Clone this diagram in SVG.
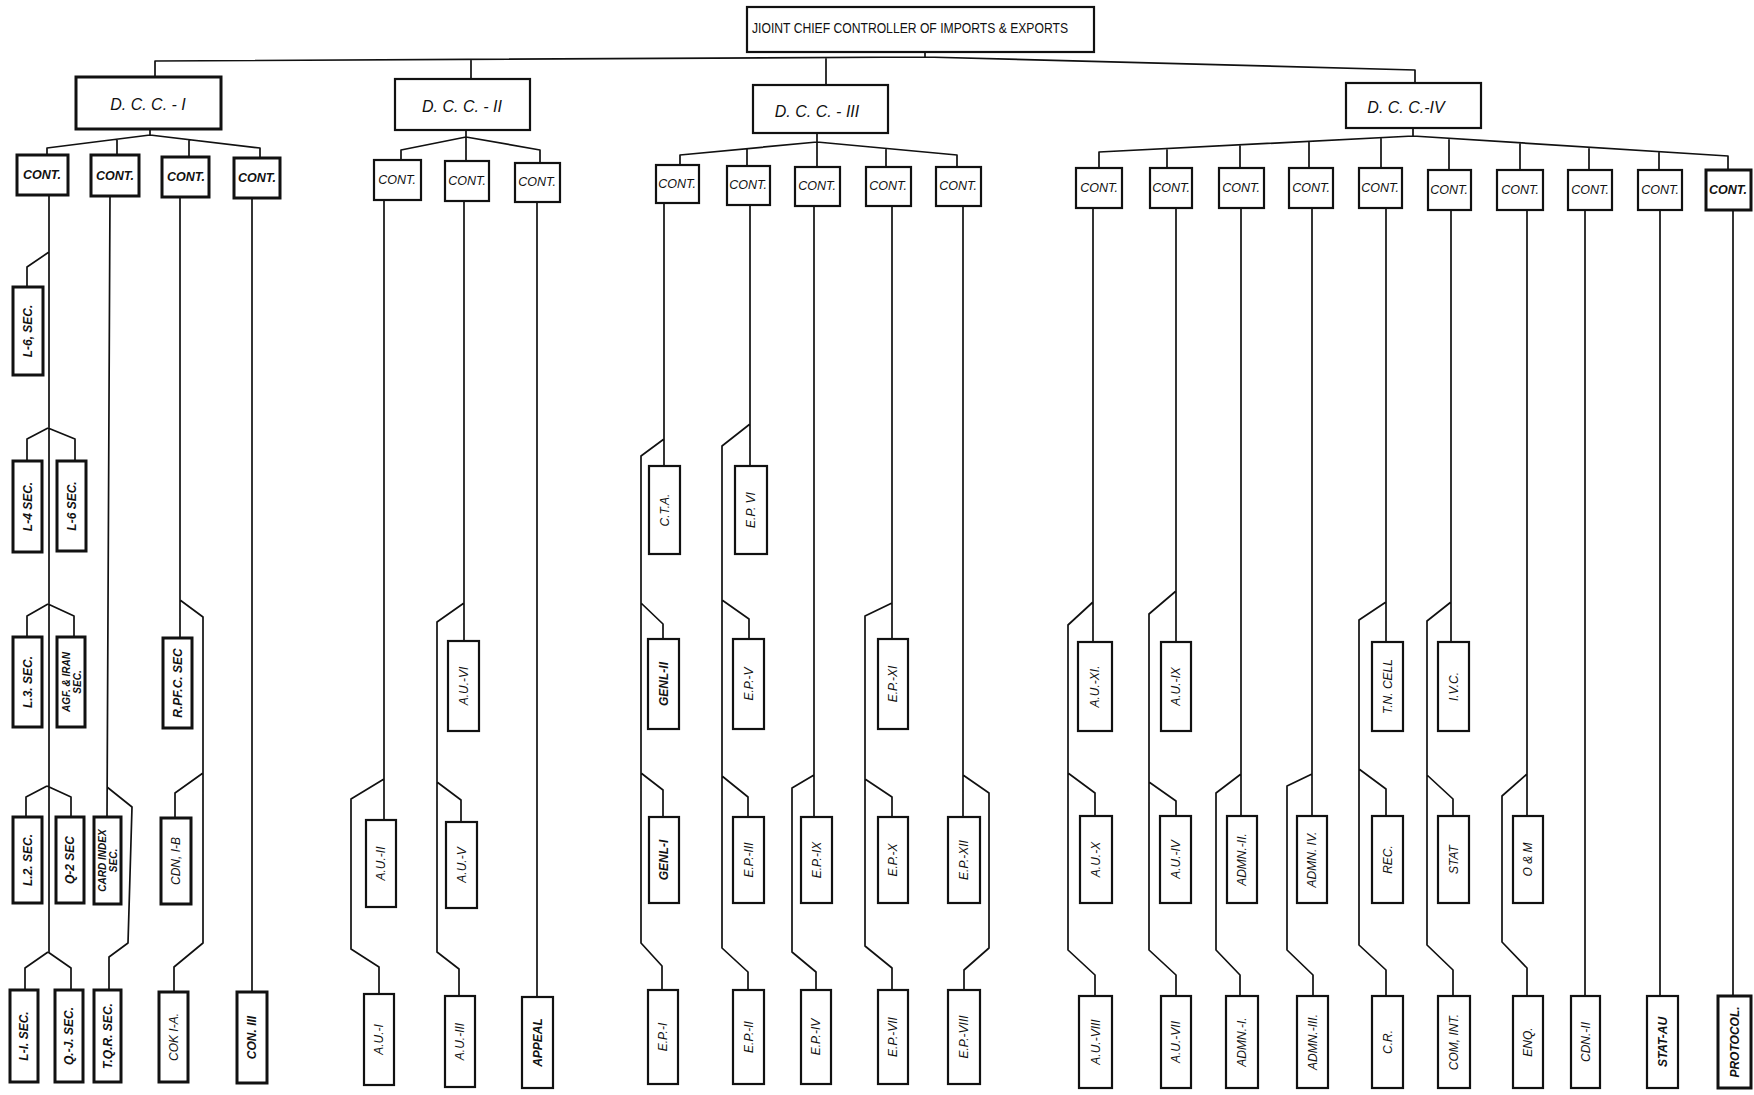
<svg xmlns="http://www.w3.org/2000/svg" width="1754" height="1095" viewBox="0 0 1754 1095">
<style>
.bg{fill:#fff}
.box{fill:#fff;stroke:#111;stroke-width:2.2}
.bb{fill:#fff;stroke:#111;stroke-width:3}
.ln{fill:none;stroke:#111;stroke-width:1.7;stroke-linejoin:round}
.t{font-family:"Liberation Sans",Arial,sans-serif;font-style:italic;fill:#111;text-anchor:middle;dominant-baseline:central}
.r{font-size:12px}
.r2{font-size:10px}
.c{font-size:12.5px}
.d{font-size:16px}
.b{font-weight:bold}
.top{font-size:15px;font-style:normal;text-anchor:start}
</style>
<rect class="bg" x="0" y="0" width="1754" height="1095"/>
<g id="connectors">
<path class="ln" d="M155 77 V61 L925 57 L1415 70 V83 M925 52 V57 M471 79 V59.5 M826 85 V57.5"/>
<path class="ln" d="M150 129 V135 M47 155 V148 L150 135 L260 148 V158 M117 139 V155 M189 139 V157"/>
<path class="ln" d="M466 130 V161 M401 160 V150 L466 137 L540 150 V163"/>
<path class="ln" d="M817 133 V167 M680 165 V155 L817 142 L957 155 V167 M747 149 V166 M886 148 V167"/>
<path class="ln" d="M1413 128 V136 M1099 168 V152 L1413 136 L1728 156 V170 M1167 148.5 V168 M1240 144.8 V168 M1309 141.3 V168 M1381 137.6 V168 M1449 138.3 V170 M1520 142.8 V170 M1589 147.2 V170 M1659 151.6 V170"/>
<path class="ln" d="M49 195 V952 M49 252 L27 267 V287 M48 428 L27 439 V461 M48 428 L75 439 V461 M48 604 L27 616 V637 M48 604 L74 616 V637 M47 786 L26 797 V817 M47 786 L71 797 V817 M48 952 L25 968 V990 M48 952 L71 968 V990"/>
<path class="ln" d="M110 196 L107 817 M107 787 L132 807 L128 943 L109 957 V990"/>
<path class="ln" d="M180 197 V638 M180 600 L203 617 V943 L174 967 V992 M203 773 L175 793 V818"/>
<path class="ln" d="M252 198 V992"/>
<path class="ln" d="M384 200 V820 M384 779 L351 799 V949 L379 967 V994"/>
<path class="ln" d="M464 201 V641 M464 603 L437 622 V952 L459 969 V996 M437 782 L461 800 V822"/>
<path class="ln" d="M537 202 V997"/>
<path class="ln" d="M664 203 V466 M664 439 L641 456 V943 L662 966 V990 M641 603 L663 624 V639 M641 773 L663 790 V817"/>
<path class="ln" d="M750 205 V466 M750 424 L722 446 V948 L748 972 V990 M722 600 L749 619 V639 M722 776 L748 797 V817"/>
<path class="ln" d="M814 206 V817 M814 775 L792 788 V952 L816 972 V990"/>
<path class="ln" d="M892 206 V639 M892 603 L865 616 V946 L892 968 V990 M865 779 L892 797 V817"/>
<path class="ln" d="M963 206 V817 M963 775 L989 793 V948 L964 970 V990"/>
<path class="ln" d="M1093 208 V642 M1093 602 L1068 625 V950 L1095 975 V996 M1068 773 L1095 793 V816"/>
<path class="ln" d="M1176 208 V642 M1176 591 L1149 614 V950 L1176 975 V996 M1149 782 L1176 801 V816"/>
<path class="ln" d="M1241 208 V816 M1241 774 L1216 793 V950 L1240 975 V996"/>
<path class="ln" d="M1312 208 V816 M1312 774 L1287 786 V950 L1313 975 V996"/>
<path class="ln" d="M1386 208 V642 M1386 602 L1359 620 V945 L1386 970 V996 M1359 769 L1386 789 V816"/>
<path class="ln" d="M1451 210 V642 M1451 602 L1427 621 V945 L1453 970 V996 M1427 775 L1453 799 V816"/>
<path class="ln" d="M1527 210 V816 M1527 774 L1502 796 V942 L1527 968 V996"/>
<path class="ln" d="M1585 210 V996 M1660 210 V996 M1733 210 V996"/>
</g>
<g id="jcc"><rect class="box" x="747" y="7" width="347" height="45"/><text class="t top" x="752" y="27" textLength="316" lengthAdjust="spacingAndGlyphs">JIOINT  CHIEF  CONTROLLER OF IMPORTS &amp; EXPORTS</text></g>
<g id="dcc1"><rect class="bb" x="76" y="77" width="145" height="52"/><text class="t d" x="148" y="104">D. C. C.  - I</text></g>
<g id="dcc2"><rect class="box" x="395" y="79" width="135" height="51"/><text class="t d" x="462" y="106">D. C. C. - II</text></g>
<g id="dcc3"><rect class="box" x="753" y="85" width="135" height="48"/><text class="t d" x="817" y="111">D. C. C. - III</text></g>
<g id="dcc4"><rect class="box" x="1346" y="83" width="135" height="45"/><text class="t d" x="1406" y="107">D. C. C.-IV</text></g>
<g id="c1-1"><rect class="bb" x="17" y="155" width="51" height="40"/><text class="t c b" x="42" y="175">CONT.</text></g>
<g id="c1-2"><rect class="bb" x="91" y="155" width="48" height="41"/><text class="t c b" x="115" y="176">CONT.</text></g>
<g id="c1-3"><rect class="bb" x="162" y="157" width="47" height="40"/><text class="t c b" x="186" y="177">CONT.</text></g>
<g id="c1-4"><rect class="bb" x="234" y="158" width="46" height="40"/><text class="t c b" x="257" y="178">CONT.</text></g>
<g id="c2-1"><rect class="box" x="374" y="160" width="47" height="40"/><text class="t c" x="397" y="180">CONT.</text></g>
<g id="c2-2"><rect class="box" x="445" y="161" width="44" height="40"/><text class="t c" x="467" y="181">CONT.</text></g>
<g id="c2-3"><rect class="box" x="515" y="163" width="45" height="39"/><text class="t c" x="537" y="182">CONT.</text></g>
<g id="c3-1"><rect class="box" x="656" y="165" width="43" height="38"/><text class="t c" x="677" y="184">CONT.</text></g>
<g id="c3-2"><rect class="box" x="727" y="166" width="43" height="39"/><text class="t c" x="748" y="185">CONT.</text></g>
<g id="c3-3"><rect class="box" x="795" y="167" width="45" height="39"/><text class="t c" x="817" y="186">CONT.</text></g>
<g id="c3-4"><rect class="box" x="866" y="167" width="45" height="39"/><text class="t c" x="888" y="186">CONT.</text></g>
<g id="c3-5"><rect class="box" x="936" y="167" width="45" height="39"/><text class="t c" x="958" y="186">CONT.</text></g>
<g id="c4-1"><rect class="box" x="1076" y="168" width="46" height="40"/><text class="t c" x="1099" y="188">CONT.</text></g>
<g id="c4-2"><rect class="box" x="1150" y="168" width="42" height="40"/><text class="t c" x="1171" y="188">CONT.</text></g>
<g id="c4-3"><rect class="box" x="1219" y="168" width="45" height="40"/><text class="t c" x="1241" y="188">CONT.</text></g>
<g id="c4-4"><rect class="box" x="1289" y="168" width="44" height="40"/><text class="t c" x="1311" y="188">CONT.</text></g>
<g id="c4-5"><rect class="box" x="1359" y="168" width="43" height="40"/><text class="t c" x="1380" y="188">CONT.</text></g>
<g id="c4-6"><rect class="box" x="1428" y="170" width="43" height="40"/><text class="t c" x="1449" y="190">CONT.</text></g>
<g id="c4-7"><rect class="box" x="1497" y="170" width="46" height="40"/><text class="t c" x="1520" y="190">CONT.</text></g>
<g id="c4-8"><rect class="box" x="1568" y="170" width="44" height="40"/><text class="t c" x="1590" y="190">CONT.</text></g>
<g id="c4-9"><rect class="box" x="1638" y="170" width="44" height="40"/><text class="t c" x="1660" y="190">CONT.</text></g>
<g id="c4-10"><rect class="bb" x="1706" y="170" width="45" height="40"/><text class="t c b" x="1728" y="190">CONT.</text></g>
<g id="l6a"><rect class="bb" x="13" y="287" width="30" height="88"/><text class="t r b" x="28" y="331" transform="rotate(-90 28 331)">L-6, SEC.</text></g>
<g id="l4"><rect class="bb" x="13" y="461" width="29" height="91"/><text class="t r b" x="27.5" y="506.5" transform="rotate(-90 27.5 506.5)">L-4 SEC.</text></g>
<g id="l6b"><rect class="bb" x="57" y="461" width="29" height="90"/><text class="t r b" x="71.5" y="506" transform="rotate(-90 71.5 506)">L-6 SEC.</text></g>
<g id="l3"><rect class="bb" x="13" y="637" width="29" height="90"/><text class="t r b" x="27.5" y="682" transform="rotate(-90 27.5 682)">L.3. SEC.</text></g>
<g id="agf"><rect class="bb" x="57" y="637" width="28" height="90"/><text class="t r2 b" x="71" y="682" transform="rotate(-90 71 682)"><tspan x="71" dy="-0.55em">AGF. &amp; IRAN</tspan><tspan x="71" dy="1.1em">SEC.</tspan></text></g>
<g id="l2"><rect class="bb" x="13" y="817" width="29" height="86"/><text class="t r b" x="27.5" y="860" transform="rotate(-90 27.5 860)">L.2. SEC.</text></g>
<g id="q2"><rect class="bb" x="56" y="817" width="28" height="86"/><text class="t r b" x="70" y="860" transform="rotate(-90 70 860)">Q-2 SEC</text></g>
<g id="card"><rect class="bb" x="94" y="817" width="27" height="87"/><text class="t r2 b" x="107.5" y="860.5" transform="rotate(-90 107.5 860.5)"><tspan x="107.5" dy="-0.55em">CARD INDEX</tspan><tspan x="107.5" dy="1.1em">SEC.</tspan></text></g>
<g id="l1"><rect class="bb" x="10" y="990" width="28" height="92"/><text class="t r b" x="24" y="1036" transform="rotate(-90 24 1036)">L-I. SEC.</text></g>
<g id="qj"><rect class="bb" x="55" y="990" width="28" height="92"/><text class="t r b" x="69" y="1036" transform="rotate(-90 69 1036)">Q.-J. SEC.</text></g>
<g id="tqr"><rect class="bb" x="94" y="990" width="27" height="92"/><text class="t r b" x="107.5" y="1036" transform="rotate(-90 107.5 1036)">T.Q.R. SEC.</text></g>
<g id="rpfc"><rect class="bb" x="163" y="638" width="29" height="90"/><text class="t r b" x="177.5" y="683" transform="rotate(-90 177.5 683)">R.PF.C. SEC</text></g>
<g id="cdnib"><rect class="bb" x="161" y="818" width="30" height="86"/><text class="t r" x="176" y="861" transform="rotate(-90 176 861)">CDN, I-B</text></g>
<g id="cokia"><rect class="bb" x="159" y="992" width="29" height="90"/><text class="t r" x="173.5" y="1037" transform="rotate(-90 173.5 1037)">COK I-A.</text></g>
<g id="con3"><rect class="bb" x="237" y="992" width="30" height="91"/><text class="t r b" x="252" y="1037.5" transform="rotate(-90 252 1037.5)">CON. III</text></g>
<g id="au2"><rect class="box" x="366" y="820" width="30" height="87"/><text class="t r" x="381" y="863.5" transform="rotate(-90 381 863.5)">A.U.-II</text></g>
<g id="au1"><rect class="box" x="364" y="994" width="30" height="91"/><text class="t r" x="379" y="1039.5" transform="rotate(-90 379 1039.5)">A.U.-I</text></g>
<g id="au6"><rect class="box" x="448" y="641" width="31" height="90"/><text class="t r" x="463.5" y="686" transform="rotate(-90 463.5 686)">A.U.-VI</text></g>
<g id="au5"><rect class="box" x="446" y="822" width="31" height="86"/><text class="t r" x="461.5" y="865" transform="rotate(-90 461.5 865)">A.U.-V</text></g>
<g id="au3"><rect class="box" x="445" y="996" width="30" height="91"/><text class="t r" x="460" y="1041.5" transform="rotate(-90 460 1041.5)">A.U.-III</text></g>
<g id="appeal"><rect class="box" x="522" y="997" width="31" height="91"/><text class="t r b" x="537.5" y="1042.5" transform="rotate(-90 537.5 1042.5)">APPEAL</text></g>
<g id="cta"><rect class="box" x="649" y="466" width="31" height="88"/><text class="t r" x="664.5" y="510" transform="rotate(-90 664.5 510)">C.T.A.</text></g>
<g id="genl2"><rect class="box" x="648" y="639" width="31" height="90"/><text class="t r b" x="663.5" y="684" transform="rotate(-90 663.5 684)">GENL-II</text></g>
<g id="genl1"><rect class="box" x="649" y="817" width="30" height="86"/><text class="t r b" x="664" y="860" transform="rotate(-90 664 860)">GENL-I</text></g>
<g id="ep1"><rect class="box" x="648" y="990" width="30" height="94"/><text class="t r" x="663" y="1037" transform="rotate(-90 663 1037)">E.P.-I</text></g>
<g id="ep6"><rect class="box" x="735" y="466" width="32" height="88"/><text class="t r" x="751" y="510" transform="rotate(-90 751 510)">E.P. VI</text></g>
<g id="ep5"><rect class="box" x="733" y="639" width="31" height="90"/><text class="t r" x="748.5" y="684" transform="rotate(-90 748.5 684)">E.P.-V</text></g>
<g id="ep3"><rect class="box" x="733" y="817" width="31" height="86"/><text class="t r" x="748.5" y="860" transform="rotate(-90 748.5 860)">E.P.-III</text></g>
<g id="ep2"><rect class="box" x="733" y="990" width="31" height="94"/><text class="t r" x="748.5" y="1037" transform="rotate(-90 748.5 1037)">E.P.-II</text></g>
<g id="ep9"><rect class="box" x="801" y="817" width="31" height="86"/><text class="t r" x="816.5" y="860" transform="rotate(-90 816.5 860)">E.P.-IX</text></g>
<g id="ep4"><rect class="box" x="801" y="990" width="30" height="94"/><text class="t r" x="816" y="1037" transform="rotate(-90 816 1037)">E.P.-IV</text></g>
<g id="ep11"><rect class="box" x="878" y="639" width="30" height="90"/><text class="t r" x="893" y="684" transform="rotate(-90 893 684)">E.P.-XI</text></g>
<g id="ep10"><rect class="box" x="878" y="817" width="30" height="86"/><text class="t r" x="893" y="860" transform="rotate(-90 893 860)">E.P.-X</text></g>
<g id="ep7"><rect class="box" x="878" y="990" width="30" height="94"/><text class="t r" x="893" y="1037" transform="rotate(-90 893 1037)">E.P.-VII</text></g>
<g id="ep12"><rect class="box" x="948" y="817" width="32" height="86"/><text class="t r" x="964" y="860" transform="rotate(-90 964 860)">E.P.-XII</text></g>
<g id="ep8"><rect class="box" x="948" y="990" width="32" height="94"/><text class="t r" x="964" y="1037" transform="rotate(-90 964 1037)">E.P.-VIII</text></g>
<g id="au11"><rect class="box" x="1078" y="642" width="34" height="89"/><text class="t r" x="1095" y="686.5" transform="rotate(-90 1095 686.5)">A.U.-XI.</text></g>
<g id="au10"><rect class="box" x="1080" y="816" width="32" height="87"/><text class="t r" x="1096" y="859.5" transform="rotate(-90 1096 859.5)">A.U.-X</text></g>
<g id="au8"><rect class="box" x="1079" y="996" width="33" height="92"/><text class="t r" x="1095.5" y="1042" transform="rotate(-90 1095.5 1042)">A.U.-VIII</text></g>
<g id="au9"><rect class="box" x="1161" y="642" width="30" height="89"/><text class="t r" x="1176" y="686.5" transform="rotate(-90 1176 686.5)">A.U.-IX</text></g>
<g id="au4"><rect class="box" x="1160" y="816" width="31" height="87"/><text class="t r" x="1175.5" y="859.5" transform="rotate(-90 1175.5 859.5)">A.U.-IV</text></g>
<g id="au7"><rect class="box" x="1161" y="996" width="30" height="92"/><text class="t r" x="1176" y="1042" transform="rotate(-90 1176 1042)">A.U.-VII</text></g>
<g id="admn2"><rect class="box" x="1227" y="816" width="30" height="87"/><text class="t r" x="1242" y="859.5" transform="rotate(-90 1242 859.5)">ADMN.-II.</text></g>
<g id="admn1"><rect class="box" x="1226" y="996" width="32" height="92"/><text class="t r" x="1242" y="1042" transform="rotate(-90 1242 1042)">ADMN.-I.</text></g>
<g id="admn4"><rect class="box" x="1297" y="816" width="30" height="87"/><text class="t r" x="1312" y="859.5" transform="rotate(-90 1312 859.5)">ADMN. IV.</text></g>
<g id="admn3"><rect class="box" x="1297" y="996" width="31" height="92"/><text class="t r" x="1312.5" y="1042" transform="rotate(-90 1312.5 1042)">ADMN.-III.</text></g>
<g id="tncell"><rect class="box" x="1372" y="642" width="31" height="89"/><text class="t r" x="1387.5" y="686.5" transform="rotate(-90 1387.5 686.5)">T.N. CELL</text></g>
<g id="rec"><rect class="box" x="1372" y="816" width="31" height="87"/><text class="t r" x="1387.5" y="859.5" transform="rotate(-90 1387.5 859.5)">REC.</text></g>
<g id="cr"><rect class="box" x="1372" y="996" width="31" height="92"/><text class="t r" x="1387.5" y="1042" transform="rotate(-90 1387.5 1042)">C.R.</text></g>
<g id="ivc"><rect class="box" x="1438" y="642" width="31" height="89"/><text class="t r" x="1453.5" y="686.5" transform="rotate(-90 1453.5 686.5)">I.V.C.</text></g>
<g id="stat"><rect class="box" x="1438" y="816" width="31" height="87"/><text class="t r" x="1453.5" y="859.5" transform="rotate(-90 1453.5 859.5)">STAT</text></g>
<g id="comint"><rect class="box" x="1438" y="996" width="32" height="92"/><text class="t r" x="1454" y="1042" transform="rotate(-90 1454 1042)">COM, INT.</text></g>
<g id="om"><rect class="box" x="1513" y="816" width="30" height="87"/><text class="t r" x="1528" y="859.5" transform="rotate(-90 1528 859.5)">O &amp; M</text></g>
<g id="enq"><rect class="box" x="1513" y="996" width="30" height="92"/><text class="t r" x="1528" y="1042" transform="rotate(-90 1528 1042)">ENQ.</text></g>
<g id="cdn2"><rect class="box" x="1571" y="996" width="29" height="92"/><text class="t r" x="1585.5" y="1042" transform="rotate(-90 1585.5 1042)">CDN.-II</text></g>
<g id="statau"><rect class="box" x="1647" y="996" width="31" height="92"/><text class="t r b" x="1662.5" y="1042" transform="rotate(-90 1662.5 1042)">STAT-AU</text></g>
<g id="protocol"><rect class="bb" x="1718" y="996" width="33" height="92"/><text class="t r b" x="1734.5" y="1042" transform="rotate(-90 1734.5 1042)">PROTOCOL.</text></g>
</svg>
